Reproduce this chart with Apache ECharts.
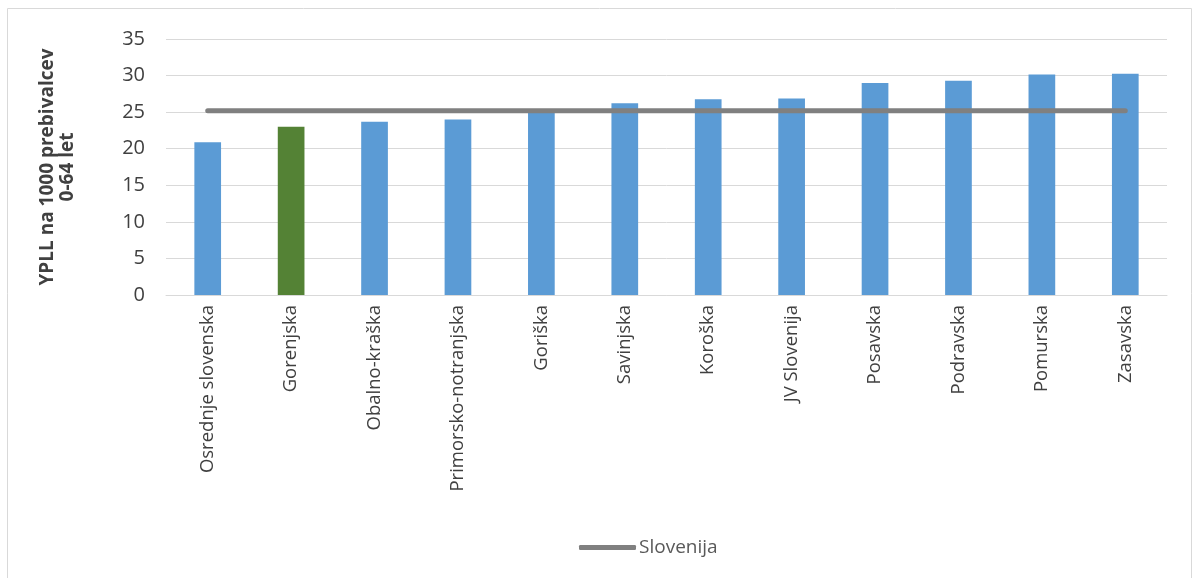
<!DOCTYPE html>
<html><head><meta charset="utf-8">
<script src="https://cdn.jsdelivr.net/npm/echarts@6/dist/echarts.min.js"></script>
<style>html,body{margin:0;padding:0;background:#fff}#c{width:1200px;height:578px}</style>
</head><body><div id="c"></div>
<script>
const categories = ['Osrednje slovenska','Gorenjska','Obalno-kraška','Primorsko-notranjska','Goriška','Savinjska','Koroška','JV Slovenija','Posavska','Podravska','Pomurska','Zasavska'];
const regionValues = [20.9, 23.0, 23.7, 24.0, 25.1, 26.2, 26.75, 26.85, 29.0, 29.3, 30.15, 30.25];
const sloveniaValue = 25.2;
const highlighted = 'Gorenjska';
const yTicks = [0, 5, 10, 15, 20, 25, 30, 35];

const chart = echarts.init(document.getElementById('c'), null, {renderer: 'canvas'});
const font = '"Open Sans", "Noto Sans", sans-serif';
chart.setOption({
  animation: false,
  textStyle: {fontFamily: font},
  graphic: [{type: 'rect', shape: {x: 7.5, y: 8.5, width: 1184, height: 575}, style: {fill: 'none', stroke: '#d9d9d9', lineWidth: 1}, silent: true}],
  grid: {left: 166, right: 33, top: 39, bottom: 283},
  legend: {
    top: 533, left: 574, data: ['Slovenija'],
    itemWidth: 57, itemHeight: 5, itemGap: 4,
    textStyle: {fontSize: 19, color: '#595959', fontFamily: font, padding: [0, 0, 0, -2]},
    icon: 'roundRect'
  },
  xAxis: {
    type: 'category', data: categories,
    axisLine: {lineStyle: {color: '#d9d9d9'}}, axisTick: {show: false},
    axisLabel: {rotate: 90, fontSize: 18.5, color: '#404040', margin: 10, interval: 0}
  },
  yAxis: {
    type: 'value', min: yTicks[0], max: yTicks[yTicks.length - 1], interval: 5,
    name: 'YPLL na 1000 prebivalcev\n0-64 let', nameLocation: 'middle', nameGap: 88, nameRotate: 90,
    nameTextStyle: {fontSize: 19, fontWeight: 'bold', color: '#404040', lineHeight: 20, align: 'center'},
    axisLine: {show: false}, axisTick: {show: false},
    axisLabel: {fontSize: 20, color: '#404040', margin: 21},
    splitLine: {lineStyle: {color: '#d9d9d9', width: 1}}
  },
  series: [{
    type: 'bar', name: 'YPLL', barWidth: '32%',
    data: regionValues.map((v, i) => ({value: v, itemStyle: {color: categories[i] === highlighted ? '#548235' : '#5B9BD5'}})),
  }, {
    type: 'line', name: 'Slovenija', data: categories.map(() => sloveniaValue),
    symbol: 'none', lineStyle: {color: '#808080', width: 5, cap: 'round'}, itemStyle: {color: '#808080'}, z: 5
  }]
});
</script></body></html>
